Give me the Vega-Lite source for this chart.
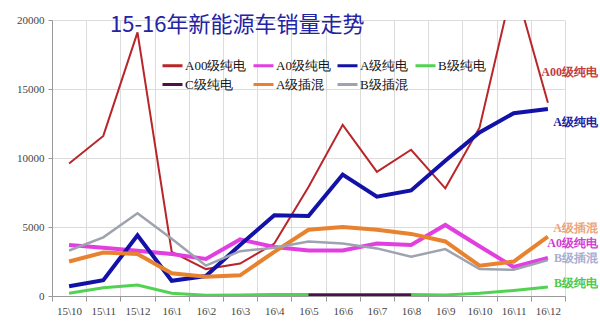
{
  "$schema": "https://vega.github.io/schema/vega-lite/v6.json",
  "width": 513,
  "height": 276,
  "autosize": {"type": "none"},
  "padding": {"left": 52, "top": 20, "right": 35, "bottom": 36},
  "background": "white",
  "title": {
    "text": "15-16年新能源车销量走势",
    "anchor": "start",
    "frame": "group",
    "dx": 58,
    "offset": -45,
    "baseline": "bottom",
    "font": "Noto Sans CJK SC",
    "fontSize": 22,
    "fontWeight": "normal",
    "color": "#2323a6"
  },
  "config": {
    "view": {"stroke": null},
    "axis": {
      "labelFont": "Liberation Serif",
      "labelColor": "#444",
      "labelFontSize": 11,
      "gridColor": "#dcdcdc",
      "domainColor": "#999",
      "tickColor": "#999"
    }
  },
  "datasets": {
    "sales": [
      {"m": "15\\10", "A00级纯电": 9600, "A0级纯电": 3700, "A级纯电": 700, "B级纯电": 200, "C级纯电": null, "A级插混": 2500, "B级插混": 3300},
      {"m": "15\\11", "A00级纯电": 11600, "A0级纯电": 3500, "A级纯电": 1150, "B级纯电": 600, "C级纯电": null, "A级插混": 3150, "B级插混": 4250},
      {"m": "15\\12", "A00级纯电": 19100, "A0级纯电": 3280, "A级纯电": 4400, "B级纯电": 800, "C级纯电": null, "A级插混": 3050, "B级插混": 6000},
      {"m": "16\\1", "A00级纯电": 3200, "A0级纯电": 3040, "A级纯电": 1100, "B级纯电": 200, "C级纯电": null, "A级插混": 1650, "B级插混": 4150},
      {"m": "16\\2", "A00级纯电": 1950, "A0级纯电": 2680, "A级纯电": 1450, "B级纯电": 50, "C级纯电": null, "A级插混": 1400, "B级插混": 2200},
      {"m": "16\\3", "A00级纯电": 2350, "A0级纯电": 4100, "A级纯电": 3700, "B级纯电": 80, "C级纯电": null, "A级插混": 1500, "B级插混": 3250},
      {"m": "16\\4", "A00级纯电": 3800, "A0级纯电": 3550, "A级纯电": 5850, "B级纯电": 100, "C级纯电": null, "A级插混": 3200, "B级插混": 3500},
      {"m": "16\\5", "A00级纯电": 7900, "A0级纯电": 3300, "A级纯电": 5800, "B级纯电": 100, "C级纯电": 30, "A级插混": 4800, "B级插混": 3950},
      {"m": "16\\6", "A00级纯电": 12400, "A0级纯电": 3300, "A级纯电": 8800, "B级纯电": 100, "C级纯电": 30, "A级插混": 5000, "B级插混": 3800},
      {"m": "16\\7", "A00级纯电": 9000, "A0级纯电": 3800, "A级纯电": 7200, "B级纯电": 100, "C级纯电": 30, "A级插混": 4800, "B级插混": 3450},
      {"m": "16\\8", "A00级纯电": 10600, "A0级纯电": 3700, "A级纯电": 7650, "B级纯电": 100, "C级纯电": 30, "A级插混": 4500, "B级插混": 2850},
      {"m": "16\\9", "A00级纯电": 7800, "A0级纯电": 5150, "A级纯电": 9800, "B级纯电": 80, "C级纯电": null, "A级插混": 3950, "B级插混": 3400},
      {"m": "16\\10", "A00级纯电": 12200, "A0级纯电": 3600, "A级纯电": 11850, "B级纯电": 200, "C级纯电": null, "A级插混": 2200, "B级插混": 1950},
      {"m": "16\\11", "A00级纯电": 22800, "A0级纯电": 2100, "A级纯电": 13250, "B级纯电": 400, "C级纯电": null, "A级插混": 2500, "B级插混": 1900},
      {"m": "16\\12", "A00级纯电": 14000, "A0级纯电": 2750, "A级纯电": 13550, "B级纯电": 650, "C级纯电": null, "A级插混": 4300, "B级插混": 2600}
    ],
    "endLabels": [
      {"m": "16\\12", "series": "A00级纯电", "pos": 16200},
      {"m": "16\\12", "series": "A级纯电", "pos": 12600},
      {"m": "16\\12", "series": "A级插混", "pos": 4950},
      {"m": "16\\12", "series": "A0级纯电", "pos": 3850},
      {"m": "16\\12", "series": "B级插混", "pos": 2750},
      {"m": "16\\12", "series": "B级纯电", "pos": 950}
    ]
  },
  "encoding": {
    "x": {
      "field": "m",
      "type": "ordinal",
      "sort": null,
      "bandPosition": 0.5,
      "scale": {"type": "band", "paddingInner": 0, "paddingOuter": 0},
      "axis": {"title": null, "labelAngle": 0, "tickBand": "extent", "grid": true, "tickSize": 5, "labelPadding": 4}
    }
  },
  "layer": [
    {
      "data": {"name": "sales"},
      "transform": [
        {"fold": ["A00级纯电", "A0级纯电", "A级纯电", "B级纯电", "C级纯电", "A级插混", "B级插混"], "as": ["series", "value"]}
      ],
      "mark": {"type": "line", "clip": true},
      "encoding": {
        "y": {
          "field": "value",
          "type": "quantitative",
          "scale": {"domain": [0, 20000], "nice": false},
          "axis": {"title": null, "values": [0, 5000, 10000, 15000, 20000], "format": "d", "grid": true, "tickSize": 4, "labelPadding": 4}
        },
        "color": {
          "field": "series",
          "type": "nominal",
          "sort": ["A00级纯电", "A0级纯电", "A级纯电", "B级纯电", "C级纯电", "A级插混", "B级插混"],
          "scale": {
            "domain": ["A00级纯电", "A0级纯电", "A级纯电", "B级纯电", "C级纯电", "A级插混", "B级插混"],
            "range": ["#b8262a", "#e23fe0", "#1212a8", "#52d252", "#4a1248", "#e8822e", "#9ea3b0"]
          },
          "legend": {
            "title": null,
            "orient": "none",
            "direction": "horizontal",
            "legendX": 109,
            "legendY": 34,
            "columns": 4,
            "symbolType": "stroke",
            "symbolSize": 400,
            "symbolStrokeWidth": 3,
            "labelFont": "Liberation Serif",
            "labelFontSize": 13,
            "labelColor": "#111",
            "labelOffset": 1,
            "columnPadding": 0,
            "rowPadding": 0
          }
        },
        "strokeWidth": {
          "field": "series",
          "type": "nominal",
          "scale": {
            "type": "ordinal",
            "domain": ["A00级纯电", "A0级纯电", "A级纯电", "B级纯电", "C级纯电", "A级插混", "B级插混"],
            "range": [2, 4, 4, 3, 4, 4, 2.5]
          },
          "legend": null
        }
      }
    },
    {
      "data": {"name": "endLabels"},
      "mark": {"type": "text", "align": "right", "baseline": "middle", "dx": 50, "font": "Liberation Serif", "fontSize": 12, "fontWeight": "bold"},
      "encoding": {
        "y": {"field": "pos", "type": "quantitative"},
        "text": {"field": "series"},
        "color": {
          "field": "series",
          "type": "nominal",
          "scale": {
            "domain": ["A00级纯电", "A级纯电", "A级插混", "A0级纯电", "B级插混", "B级纯电"],
            "range": ["#c43a3a", "#2020a0", "#eaa57a", "#d43cd4", "#a8aed0", "#4cc84c"]
          },
          "legend": null
        }
      }
    }
  ],
  "resolve": {"scale": {"color": "independent"}}
}
